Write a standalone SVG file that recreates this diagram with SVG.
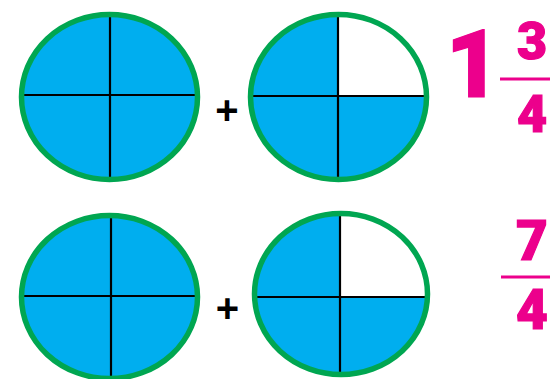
<svg xmlns="http://www.w3.org/2000/svg" width="550" height="379" viewBox="0 0 550 379">
<style>
.pie{fill:#00aeef}
.rim{fill:none;stroke:#00a651;stroke-width:5.5}
.cut{fill:#ffffff}
.div{stroke:#000;stroke-width:2.2}
.plus{font-family:"Liberation Sans",Arial,sans-serif;font-weight:bold;font-size:40px;fill:#000;text-anchor:middle}
.num{font-family:Roboto,"Liberation Sans",Arial,sans-serif;font-weight:900;fill:#ec008c;stroke:#ec008c;stroke-width:1.2;stroke-linejoin:miter;text-anchor:middle}
.bar{stroke:#ec008c;stroke-width:3}
</style>
<rect width="550" height="379" fill="#ffffff"/>
<g id="circle-top-left">
<ellipse class="pie" cx="109.5" cy="97" rx="88" ry="82.5"/>
<line class="div" x1="22" y1="95" x2="196" y2="95"/>
<line class="div" x1="110" y1="14" x2="110" y2="180"/>
<ellipse class="rim" cx="109.5" cy="97" rx="88" ry="82.5"/>
</g>
<g id="plus-top"><text class="plus" x="227" y="124">+</text></g>
<g id="circle-top-right">
<ellipse class="pie" cx="338.5" cy="97" rx="88" ry="82.5"/>
<path class="cut" d="M338.5,96 L426.5,96 A88,82.5 0 0 0 338.5,14.5 Z"/>
<line class="div" x1="253" y1="96" x2="428" y2="96"/>
<line class="div" x1="338" y1="15" x2="338" y2="180"/>
<ellipse class="rim" cx="338.5" cy="97" rx="88" ry="82.5"/>
</g>
<g id="fraction-top">
<text class="num" x="473" y="96.5" font-size="94" stroke-width="4">1</text>
<text class="num" x="532" y="59" font-size="52">3</text>
<line class="bar" x1="500" y1="79" x2="550" y2="79"/>
<text class="num" x="532" y="132" font-size="52">4</text>
</g>
<g id="circle-bottom-left">
<ellipse class="pie" cx="109.5" cy="297" rx="88" ry="81.5"/>
<line class="div" x1="22" y1="296" x2="196" y2="296"/>
<line class="div" x1="111" y1="215" x2="111" y2="379"/>
<ellipse class="rim" cx="109.5" cy="297" rx="88" ry="81.5"/>
</g>
<g id="plus-bottom"><text class="plus" x="227.5" y="322">+</text></g>
<g id="circle-bottom-right">
<ellipse class="pie" cx="341" cy="294" rx="86.5" ry="80.5"/>
<path class="cut" d="M340,297 L427.5,297 A86.5,80.5 0 0 0 340,213.5 Z"/>
<line class="div" x1="253" y1="297" x2="428" y2="297"/>
<line class="div" x1="340" y1="212" x2="340" y2="377"/>
<ellipse class="rim" cx="341" cy="294" rx="86.5" ry="80.5"/>
</g>
<g id="fraction-bottom">
<text class="num" x="532" y="260" font-size="55">7</text>
<line class="bar" x1="501" y1="277" x2="550" y2="277"/>
<text class="num" x="532" y="329" font-size="55">4</text>
</g>
</svg>
